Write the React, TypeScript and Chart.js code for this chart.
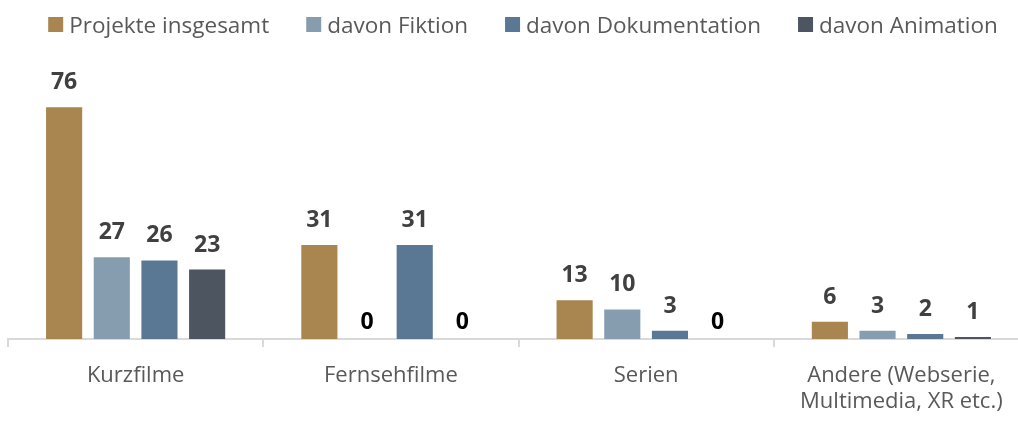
import React, { useEffect, useRef } from "react";
import { Chart, registerables } from "chart.js";

Chart.register(...registerables);

const categories: (string | string[])[] = [
  "Kurzfilme",
  "Fernsehfilme",
  "Serien",
  ["Andere (Webserie,", "Multimedia, XR etc.)"],
];
const seriesNames = ["Projekte insgesamt", "davon Fiktion", "davon Dokumentation", "davon Animation"];
const projekteInsgesamt = [76, 31, 13, 6];
const davonFiktion = [27, 0, 10, 3];
const davonDokumentation = [26, 31, 3, 2];
const davonAnimation = [23, 0, 0, 1];
const seriesColors = ["#A98550", "#869DB0", "#5A7893", "#4D5561"];

const FONT = "'Open Sans', 'Noto Sans', sans-serif";

const labelPlugin = {
  id: "valueLabels",
  afterDatasetsDraw(chart: any) {
    const ctx = chart.ctx;
    ctx.save();
    ctx.font = `bold 23px ${FONT}`;
    ctx.textAlign = "center";
    ctx.textBaseline = "alphabetic";
    chart.data.datasets.forEach((ds: any, di: number) => {
      const meta = chart.getDatasetMeta(di);
      meta.data.forEach((el: any, i: number) => {
        const v = ds.data[i];
        if (v === 0) {
          ctx.fillStyle = "#000000";
          ctx.fillText(String(v), el.x, el.y - 10);
        } else {
          ctx.fillStyle = "#404040";
          ctx.fillText(String(v), el.x, el.y - 17);
        }
      });
    });
    ctx.restore();
  },
};

const legendPlugin = {
  id: "customLegend",
  afterDraw(chart: any) {
    const ctx = chart.ctx;
    ctx.save();
    ctx.font = `22.5px ${FONT}`;
    ctx.textBaseline = "alphabetic";
    ctx.textAlign = "left";
    const box = 15;
    const boxGap = 6;
    const itemGap = 37;
    const widths = chart.data.datasets.map((ds: any) => ctx.measureText(ds.label).width);
    const total =
      widths.reduce((a: number, w: number) => a + w + box + boxGap, 0) + itemGap * (widths.length - 1);
    let x = 523 - total / 2;
    chart.data.datasets.forEach((ds: any, i: number) => {
      ctx.fillStyle = ds.backgroundColor;
      ctx.fillRect(x, 17, box, box);
      ctx.fillStyle = "#595959";
      ctx.fillText(ds.label, x + box + boxGap, 32.5);
      x += box + boxGap + widths[i] + itemGap;
    });
    ctx.restore();
  },
};

export default function App() {
  const ref = useRef<HTMLCanvasElement | null>(null);
  useEffect(() => {
    if (!ref.current) return;
    const values = [projekteInsgesamt, davonFiktion, davonDokumentation, davonAnimation];
    const chart = new Chart(ref.current, {
      type: "bar",
      data: {
        labels: categories as any,
        datasets: seriesNames.map((name, i) => ({
          label: name,
          data: values[i],
          backgroundColor: seriesColors[i],
          borderColor: "rgba(255,255,255,0.35)",
          borderWidth: 1,
          categoryPercentage: 0.747,
          barPercentage: 0.8,
        })),
      },
      options: {
        animation: false,
        responsive: true,
        maintainAspectRatio: false,
        layout: { padding: { left: 8, right: 11, top: 94, bottom: 0 } },
        plugins: {
          legend: { display: false },
          tooltip: { enabled: false },
        },
        scales: {
          x: {
            offset: true,
            afterFit: (scale: any) => {
              scale.height = 82;
            },
            grid: {
              offset: true,
              drawOnChartArea: false,
              drawTicks: true,
              tickLength: 8,
              color: "#D9D9D9",
              lineWidth: 2,
            },
            border: { color: "#D9D9D9", width: 2 },
            ticks: {
              color: "#595959",
              font: { family: FONT, size: 22, lineHeight: 1.17 },
              padding: 16,
              maxRotation: 0,
              autoSkip: false,
            },
          },
          y: {
            display: false,
            min: 0,
            max: 80,
          },
        },
      },
      plugins: [labelPlugin, legendPlugin],
    });
    return () => chart.destroy();
  }, []);
  return (
    <div style={{ position: "absolute", left: 0, top: 0, width: 1018, height: 421, overflow: "hidden", background: "#fff" }}>
      <div style={{ position: "relative", width: 1040, height: 421 }}>
        <canvas ref={ref} />
      </div>
    </div>
  );
}
